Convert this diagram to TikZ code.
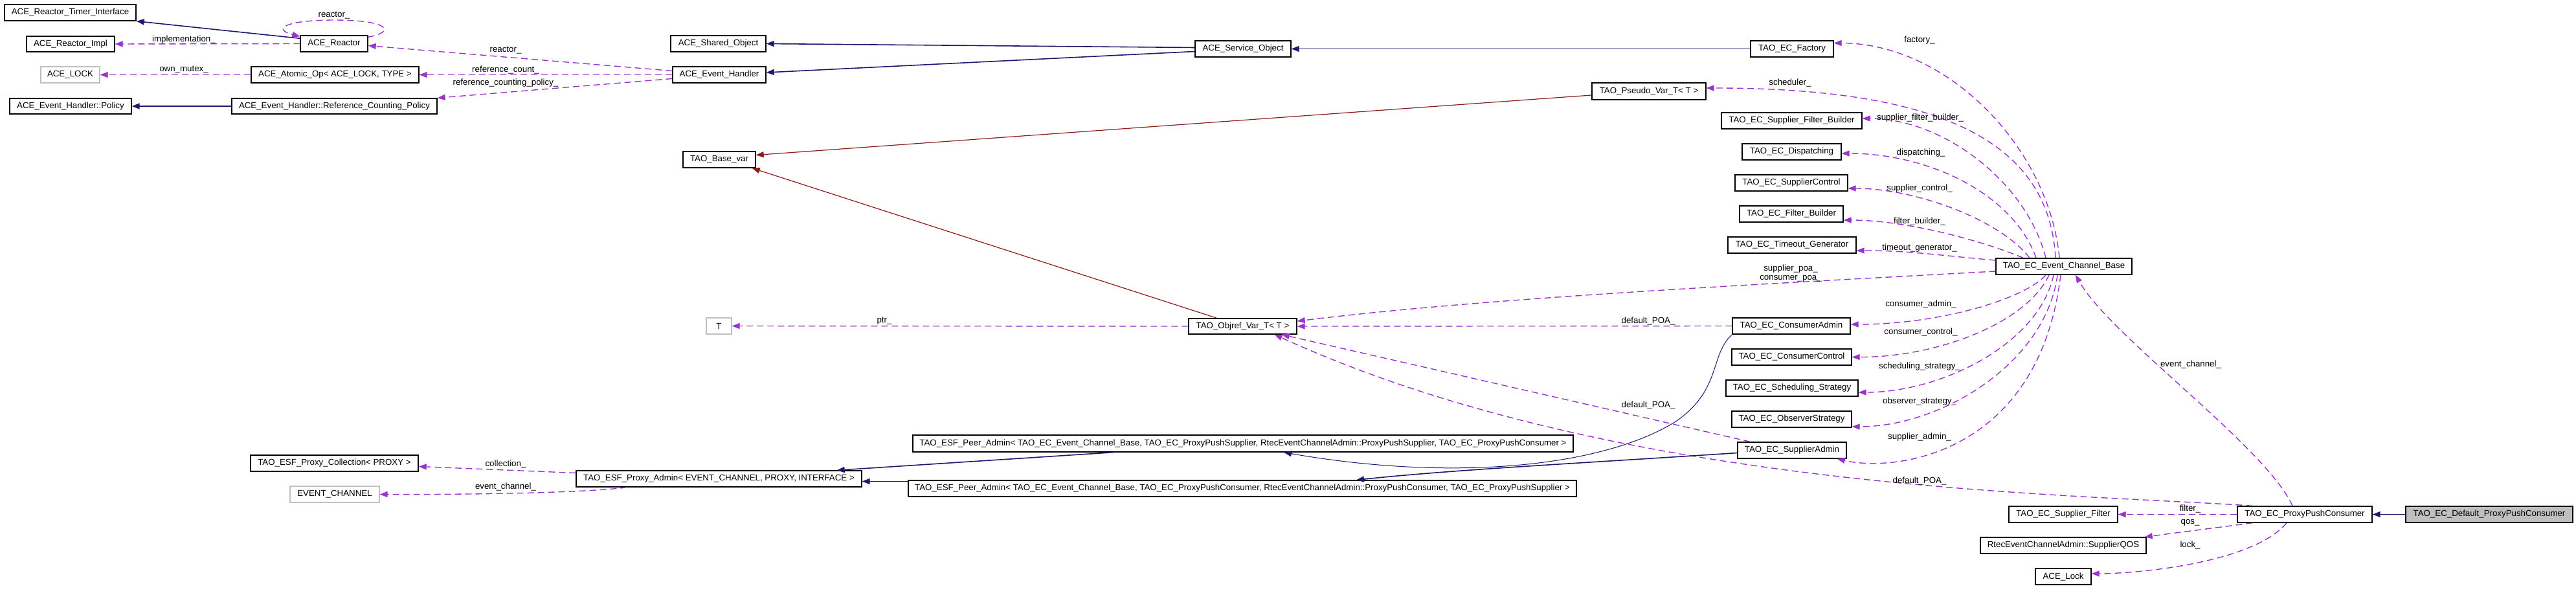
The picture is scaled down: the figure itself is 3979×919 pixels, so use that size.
\documentclass[tikz,border=0pt]{standalone}
\usepackage{fontspec}
\setmainfont{Liberation Sans}
\usetikzlibrary{arrows.meta,calc}
\definecolor{eblue}{HTML}{191970}
\definecolor{ered}{HTML}{8B1A1A}
\definecolor{epurple}{HTML}{9A32CD}
\definecolor{ngray}{HTML}{BFBFBF}
\newcommand{\dxfont}{\fontsize{6.65pt}{8pt}\selectfont}
\newcommand{\cls}[7][]{\node[cbox,#1,minimum width={(#5-#3)*0.5pt},minimum height={(#6-#4)*0.5pt}] (#2) at ({(#3+#5)/2},{(#4+#6)/2}) {#7};}
\tikzset{
  cbox/.style={draw=black, line width=0.7pt, inner sep=0pt, font=\dxfont, fill=white},
  graybox/.style={draw=ngray},
  focus/.style={fill=ngray},
  tipa/.style={-{Triangle[length=6pt,width=4.5pt]}},
  inh/.style={draw=eblue, line width=0.8pt, tipa},
  inhthin/.style={draw=eblue, line width=0.5pt, tipa},
  tmpl/.style={draw=ered, line width=0.6pt, tipa},
  use/.style={draw=epurple, line width=0.7pt, dash pattern=on 5pt off 3pt, tipa},
  lab/.style={font=\dxfont, inner sep=0pt}
}
\begin{document}
\begin{tikzpicture}[x=0.5pt,y=-0.5pt]
\useasboundingbox (0,0) rectangle (3979,919);
% nodes
\cls{rti}{7}{7}{210}{32}{ACE\_Reactor\_Timer\_Interface}
\cls{rimpl}{41}{56}{177}{80}{ACE\_Reactor\_Impl}
\cls{reactor}{464}{55}{568}{80}{ACE\_Reactor}
\cls[graybox]{lock}{63}{103}{154}{128}{ACE\_LOCK}
\cls{atomic}{388}{103}{647}{128}{ACE\_Atomic\_Op< ACE\_LOCK, TYPE >}
\cls{policy}{15}{152}{203}{176}{ACE\_Event\_Handler::Policy}
\cls{rcp}{358}{152}{675}{176}{ACE\_Event\_Handler::Reference\_Counting\_Policy}
\cls{shared}{1036}{55}{1183}{80}{ACE\_Shared\_Object}
\cls{eh}{1039}{103}{1183}{128}{ACE\_Event\_Handler}
\cls{svc}{1846}{63}{1994}{88}{ACE\_Service\_Object}
\cls{basevar}{1055}{234}{1167}{259}{TAO\_Base\_var}
\cls{factory}{2704}{63}{2832}{88}{TAO\_EC\_Factory}
\cls{pseudo}{2459}{128}{2635}{154}{TAO\_Pseudo\_Var\_T< T >}
\cls{sfb}{2659}{174}{2876}{199}{TAO\_EC\_Supplier\_Filter\_Builder}
\cls{disp}{2691}{222}{2844}{247}{TAO\_EC\_Dispatching}
\cls{supctl}{2680}{270}{2854}{295}{TAO\_EC\_SupplierControl}
\cls{fb}{2687}{318}{2847}{343}{TAO\_EC\_Filter\_Builder}
\cls{tg}{2669}{366}{2867}{391}{TAO\_EC\_Timeout\_Generator}
\cls{ecb}{3083}{399}{3293}{424}{TAO\_EC\_Event\_Channel\_Base}
\cls{cadm}{2676}{491}{2858}{516}{TAO\_EC\_ConsumerAdmin}
\cls{cctl}{2675}{539}{2860}{564}{TAO\_EC\_ConsumerControl}
\cls{sched}{2666}{587}{2870}{612}{TAO\_EC\_Scheduling\_Strategy}
\cls{obs}{2675}{635}{2860}{660}{TAO\_EC\_ObserverStrategy}
\cls{sadm}{2684}{683}{2852}{708}{TAO\_EC\_SupplierAdmin}
\cls{ppc}{3456}{782}{3664}{807}{TAO\_EC\_ProxyPushConsumer}
\cls[focus]{dppc}{3716}{782}{3974}{807}{TAO\_EC\_Default\_ProxyPushConsumer}
\cls{sfilt}{3103}{782}{3271}{807}{TAO\_EC\_Supplier\_Filter}
\cls{qos}{3059}{830}{3315}{855}{RtecEventChannelAdmin::SupplierQOS}
\cls{acelock}{3144}{878}{3230}{903}{ACE\_Lock}
\cls{objref}{1836}{492}{2003}{516}{TAO\_Objref\_Var\_T< T >}
\cls{peer1}{1410}{672}{2430}{698}{TAO\_ESF\_Peer\_Admin< TAO\_EC\_Event\_Channel\_Base, TAO\_EC\_ProxyPushSupplier, RtecEventChannelAdmin::ProxyPushSupplier, TAO\_EC\_ProxyPushConsumer >}
\cls{peer2}{1403}{742}{2435}{767}{TAO\_ESF\_Peer\_Admin< TAO\_EC\_Event\_Channel\_Base, TAO\_EC\_ProxyPushConsumer, RtecEventChannelAdmin::ProxyPushConsumer, TAO\_EC\_ProxyPushSupplier >}
\cls{coll}{387}{703}{646}{728}{TAO\_ESF\_Proxy\_Collection< PROXY >}
\cls[graybox]{evch}{448}{751}{586}{776}{EVENT\_CHANNEL}
\cls{padmin}{890}{727}{1331}{752}{TAO\_ESF\_Proxy\_Admin< EVENT\_CHANNEL, PROXY, INTERFACE >}
\cls[graybox]{T}{1091}{491}{1130}{516}{T}
% edges: ACE part
\draw[inh] ($(reactor.north west)+(0,5)$) -- (rti.south east);
\draw[use] ($(reactor.north east)+(0,3)$) .. controls (610,50) and (605,31) .. (516,31) .. controls (440,31) and (420,45) .. ($(reactor.north west)+(0,2)$);
\draw[use] (reactor.west) -- (rimpl.east);
\draw[use] ($(eh.west)+(0,-6)$) -- ($(reactor.east)+(0,3)$);
\draw[use] (eh.west) -- (atomic.east);
\draw[use] ($(eh.west)+(0,6)$) -- (rcp.north east);
\draw[use] (atomic.west) -- (lock.east);
\draw[inh] (rcp.west) -- (policy.east);
\draw[inh] ($(svc.west)+(0,-2)$) -- (shared.east);
\draw[inh] ($(svc.west)+(0,4)$) -- ($(eh.east)+(0,-3.5)$);
\draw[inh] (factory.west) -- (svc.east);
\draw[tmpl] ($(pseudo.west)+(0,6)$) -- ($(basevar.east)+(0,-7)$);
\draw[tmpl] ($(objref.north)+(-40,0)$) -- ($(basevar.south east)+(-6,0)$);
\draw[use] (objref.west) -- (T.east);
% fans from event channel base (top)
\draw[use] ($(ecb.north)+(-7,0)$) .. controls (3165,230) and (3010,67) .. ($(factory.east)+(0,-9)$);
\draw[use] ($(ecb.north)+(-13,0)$) .. controls (3165,220) and (3000,136) .. ($(pseudo.east)+(0,-5)$);
\draw[use] ($(ecb.north)+(-28,0)$) .. controls (3130,280) and (3000,183) .. ($(sfb.east)+(0,-3.5)$);
\draw[use] ($(ecb.north)+(-43,0)$) .. controls (3110,300) and (2980,237) .. ($(disp.east)+(0,2.5)$);
\draw[use] ($(ecb.north)+(-53,0)$) .. controls (3090,340) and (2960,291) .. ($(supctl.east)+(0,8.5)$);
\draw[use] ($(ecb.north)+(-63,0)$) .. controls (3070,375) and (2950,340) .. ($(fb.east)+(0,9.5)$);
\draw[use] ($(ecb.west)+(0,-9.5)$) .. controls (3000,395) and (2950,387) .. ($(tg.east)+(0,8.5)$);
\draw[use] ($(ecb.west)+(0,7.5)$) .. controls (2700,440) and (2300,460) .. ($(objref.east)+(0,-8)$);
% fans (bottom)
\draw[use] ($(ecb.south)+(-28,0)$) .. controls (3130,460) and (3000,501) .. ($(cadm.east)+(0,-2.5)$);
\draw[use] ($(ecb.south)+(-23,0)$) .. controls (3130,500) and (2990,552) .. (cctl.east);
\draw[use] ($(ecb.south)+(-16,0)$) .. controls (3150,530) and (3000,606) .. ($(sched.east)+(0,6.5)$);
\draw[use] ($(ecb.south)+(-10,0)$) .. controls (3160,560) and (3000,659) .. ($(obs.east)+(0,11.5)$);
\draw[use] ($(ecb.south)+(-5,0)$) .. controls (3150,700) and (2930,730) .. ($(sadm.south east)+(-15,0)$);
\draw[use] ($(ppc.north)+(-19,0)$) .. controls (3500,690) and (3260,520) .. ($(ecb.south)+(18,0)$);
% default_POA
\draw[use] (cadm.west) -- (objref.east);
\draw[use] ($(sadm.north west)+(20,0)$) -- ($(objref.south east)+(-24,0)$);
\draw[use] ($(ppc.north west)+(24,0)$) .. controls (3200,762) and (2500,760) .. ($(objref.south east)+(-35,0)$);
% peer admins
\draw[inhthin] (cadm.south west) .. controls (2640,550) and (2660,600) .. (2590,650) .. controls (2480,720) and (2250,745) .. ($(peer1.south)+(63,0)$);
\draw[inh] ($(sadm.west)+(0,4)$) .. controls (2450,715) and (2250,725) .. ($(peer2.north)+(176,0)$);
\draw[inh] ($(peer1.south west)+(310,0)$) -- ($(padmin.north east)+(-39,0)$);
\draw[inh] ($(peer2.west)+(0,-11)$) -- ($(padmin.east)+(0,4)$);
\draw[use] ($(padmin.west)+(0,-9)$) -- ($(coll.east)+(0,5)$);
\draw[use] ($(padmin.south west)+(79,0)$) .. controls (900,762) and (700,764) .. (evch.east);
% proxy push consumer
\draw[use] (ppc.west) -- (sfilt.east);
\draw[use] ($(ppc.south west)+(24,0)$) -- ($(qos.north east)+(-3,0)$);
\draw[use] ($(ppc.south)+(-28,0)$) .. controls (3480,870) and (3300,886) .. ($(acelock.east)+(0,-4.5)$);
\draw[inh] (dppc.west) -- (ppc.east);
% labels
\node[lab] (l1) at (516,24) {reactor\_};
\node[lab] (l2) at (284,61) {implementation\_};
\node[lab] (l3) at (284,108) {own\_mutex\_};
\node[lab] (l4) at (781,78) {reactor\_};
\node[lab] (l5) at (781,108) {reference\_count\_};
\node[lab] (l6) at (781,128) {reference\_counting\_policy\_};
\node[lab] (l7) at (1366,496) {ptr\_};
\node[lab] (l8) at (2965,62) {factory\_};
\node[lab] (l9) at (2765,128) {scheduler\_};
\node[lab] (l10) at (2966,182) {supplier\_filter\_builder\_};
\node[lab] (l11) at (2967,236) {dispatching\_};
\node[lab] (l12) at (2965,291) {supplier\_control\_};
\node[lab] (l13) at (2965,342) {filter\_builder\_};
\node[lab] (l14) at (2965,383) {timeout\_generator\_};
\node[lab] (l15) at (2766,415) {supplier\_poa\_};
\node[lab] (l16) at (2766,430) {consumer\_poa\_};
\node[lab] (l17) at (2546,496) {default\_POA\_};
\node[lab] (l18) at (2967,470) {consumer\_admin\_};
\node[lab] (l19) at (2967,513) {consumer\_control\_};
\node[lab] (l20) at (2965,566) {scheduling\_strategy\_};
\node[lab] (l21) at (2965,620) {observer\_strategy\_};
\node[lab] (l22) at (2965,675) {supplier\_admin\_};
\node[lab] (l23) at (2546,626) {default\_POA\_};
\node[lab] (l24) at (2965,743) {default\_POA\_};
\node[lab] (l25) at (3384,563) {event\_channel\_};
\node[lab] (l26) at (3383,786) {filter\_};
\node[lab] (l27) at (3383,807) {qos\_};
\node[lab] (l28) at (3383,842) {lock\_};
\node[lab] (l29) at (781,717) {collection\_};
\node[lab] (l30) at (781,752) {event\_channel\_};
\end{tikzpicture}
\end{document}
